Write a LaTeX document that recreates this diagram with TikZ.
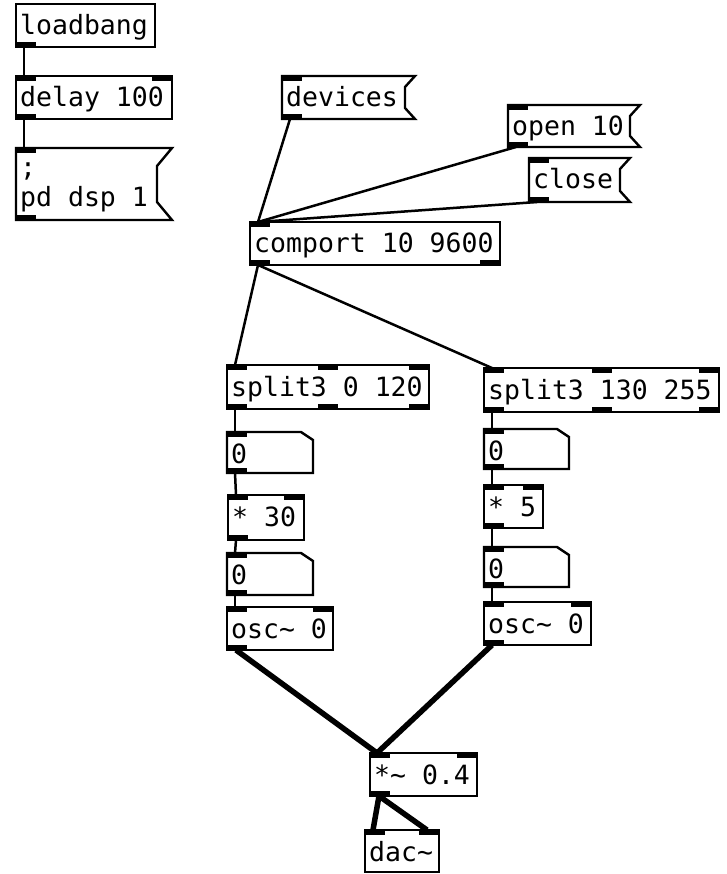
\documentclass[tikz,border=0pt]{standalone}
\usepackage{fontspec}
\newfontfamily\pdfont{DejaVu Sans Mono}
\tikzset{
  boxline/.style={line width=2.4pt, draw=black, line join=miter},
  ctl/.style={line width=2.5pt},
  sig/.style={line width=5.5pt},
  txt/.style={font=\pdfont\fontsize{26.5}{30}\selectfont, inner sep=0pt, anchor=base west},
  boxnode/.style={inner sep=0pt, outer sep=0pt, anchor=north west},
}
% object box: name, x1, y1, x2, y2, text
\newcommand\pdobj[6]{%
  \node[boxnode, draw=black, line width=2.4pt, minimum width={(#4-#2)*1pt}, minimum height={(#5-#3)*1pt}] (#1) at (#2,#3) {};
  \path (#1.north west) ++(4,31) node[txt] (#1-t) {#6};
}
% message box: name, x1, y1, x2, y2, text, dx, dy
\newcommand\pdmsg[8]{%
  \node[boxnode, minimum width={(#4-#2)*1pt}, minimum height={(#5-#3)*1pt}] (#1) at (#2,#3) {};
  \draw[boxline] (#1.north west) -- (#1.north east) -- ++(-#7,#8) -- ([xshift=-#7pt,yshift=#8pt]#1.south east) -- (#1.south east) -- (#1.south west) -- cycle;
  \path (#1.north west) ++(4,31) node[txt] (#1-t) {#6};
}
% number box: name, x1, y1, x2, y2
\newcommand\pdnum[5]{%
  \node[boxnode, minimum width={(#4-#2)*1pt}, minimum height={(#5-#3)*1pt}] (#1) at (#2,#3) {};
  \draw[boxline] (#1.north west) -- ([xshift=-12pt]#1.north east) -- ++(12,8) -- (#1.south east) -- (#1.south west) -- cycle;
  \path (#1.north west) ++(4,31) node[txt] (#1-t) {0};
}
\newcommand\inL[1]{\fill (#1.north west) rectangle ++(20,5);}
\newcommand\inR[1]{\fill (#1.north east) rectangle ++(-20,5);}
\newcommand\inM[1]{\fill ([xshift=-10pt]#1.north) rectangle ++(20,5);}
\newcommand\outL[1]{\fill (#1.south west) rectangle ++(20,-5);}
\newcommand\outR[1]{\fill (#1.south east) rectangle ++(-20,-5);}
\newcommand\outM[1]{\fill ([xshift=-10pt]#1.south) rectangle ++(20,-5);}
\begin{document}
\begin{tikzpicture}[x=1pt, y=-1pt]
\fill[white] (0,0) rectangle (726,874);
\useasboundingbox (0,0) rectangle (726,874);

% boxes
\pdobj{loadbang}{16}{4}{155}{47}{loadbang}
\outL{loadbang}
\pdobj{delay}{16}{76}{172}{119}{delay 100}
\inL{delay}\inR{delay}\outL{delay}
\pdmsg{dsp}{16}{148}{172}{220}{}{15}{18}
\path (dsp.north west) ++(4,29) node[txt] (dsp-a) {;};
\path (dsp.north west) ++(4,59) node[txt] (dsp-b) {pd dsp 1};
\inL{dsp}\outL{dsp}

\pdmsg{devices}{282}{76}{415}{119}{devices}{10}{11}
\inL{devices}\outL{devices}
\pdmsg{open}{508}{105}{640}{147}{open 10}{10}{11}
\inL{open}\outL{open}
\pdmsg{close}{529}{158}{630}{202}{close}{10}{11}
\inL{close}\outL{close}

\pdobj{comport}{250}{222}{500}{265}{comport 10 9600}
\inL{comport}\outL{comport}\outR{comport}

\pdobj{splitA}{227}{365}{429}{409}{split3 0 120}
\inL{splitA}\inM{splitA}\inR{splitA}\outL{splitA}\outM{splitA}\outR{splitA}
\pdnum{numA}{227}{432}{313}{473}
\inL{numA}\outL{numA}
\pdobj{mulA}{228}{495}{304}{540}{* 30}
\inL{mulA}\inR{mulA}\outL{mulA}
\pdnum{numB}{227}{553}{313}{595}
\inL{numB}\outL{numB}
\pdobj{oscA}{227}{607}{333}{650}{osc\char`~\ 0}
\inL{oscA}\inR{oscA}\outL{oscA}

\pdobj{splitB}{484}{368}{719}{412}{split3 130 255}
\inL{splitB}\inM{splitB}\inR{splitB}\outL{splitB}\outM{splitB}\outR{splitB}
\pdnum{numC}{484}{429}{569}{469}
\inL{numC}\outL{numC}
\pdobj{mulB}{484}{485}{543}{528}{* 5}
\inL{mulB}\inR{mulB}\outL{mulB}
\pdnum{numD}{484}{547}{569}{587}
\inL{numD}\outL{numD}
\pdobj{oscB}{484}{602}{591}{645}{osc\char`~\ 0}
\inL{oscB}\inR{oscB}\outL{oscB}

\pdobj{mulsig}{370}{753}{477}{796}{*\char`~\ 0.4}
\inL{mulsig}\inR{mulsig}\outL{mulsig}
\pdobj{dac}{365}{830}{439}{872}{dac\char`~}
\inL{dac}\inR{dac}

% control cords
\draw[ctl] ([xshift=8pt]loadbang.south west) -- ([xshift=8pt]delay.north west);
\draw[ctl] ([xshift=8pt]delay.south west) -- ([xshift=8pt]dsp.north west);
\draw[ctl] ([xshift=8pt]devices.south west) -- ([xshift=8pt]comport.north west);
\draw[ctl] ([xshift=8pt]open.south west) -- ([xshift=8pt]comport.north west);
\draw[ctl] ([xshift=8pt]close.south west) -- ([xshift=8pt]comport.north west);
\draw[ctl] ([xshift=8pt]comport.south west) -- ([xshift=8pt]splitA.north west);
\draw[ctl] ([xshift=8pt]comport.south west) -- ([xshift=8pt]splitB.north west);
\draw[ctl] ([xshift=8pt]splitA.south west) -- ([xshift=8pt]numA.north west);
\draw[ctl] ([xshift=8pt]numA.south west) -- ([xshift=8pt]mulA.north west);
\draw[ctl] ([xshift=8pt]mulA.south west) -- ([xshift=8pt]numB.north west);
\draw[ctl] ([xshift=8pt]numB.south west) -- ([xshift=8pt]oscA.north west);
\draw[ctl] ([xshift=8pt]splitB.south west) -- ([xshift=8pt]numC.north west);
\draw[ctl] ([xshift=8pt]numC.south west) -- ([xshift=8pt]mulB.north west);
\draw[ctl] ([xshift=8pt]mulB.south west) -- ([xshift=8pt]numD.north west);
\draw[ctl] ([xshift=8pt]numD.south west) -- ([xshift=8pt]oscB.north west);
% signal cords
\draw[sig] ([xshift=9pt]oscA.south west) -- ([xshift=7pt]mulsig.north west);
\draw[sig] ([xshift=8pt]oscB.south west) -- ([xshift=7pt]mulsig.north west);
\draw[sig] ([xshift=9pt]mulsig.south west) -- ([xshift=8pt]dac.north west);
\draw[sig] ([xshift=9pt]mulsig.south west) -- ([xshift=-12pt]dac.north east);
\end{tikzpicture}
\end{document}
